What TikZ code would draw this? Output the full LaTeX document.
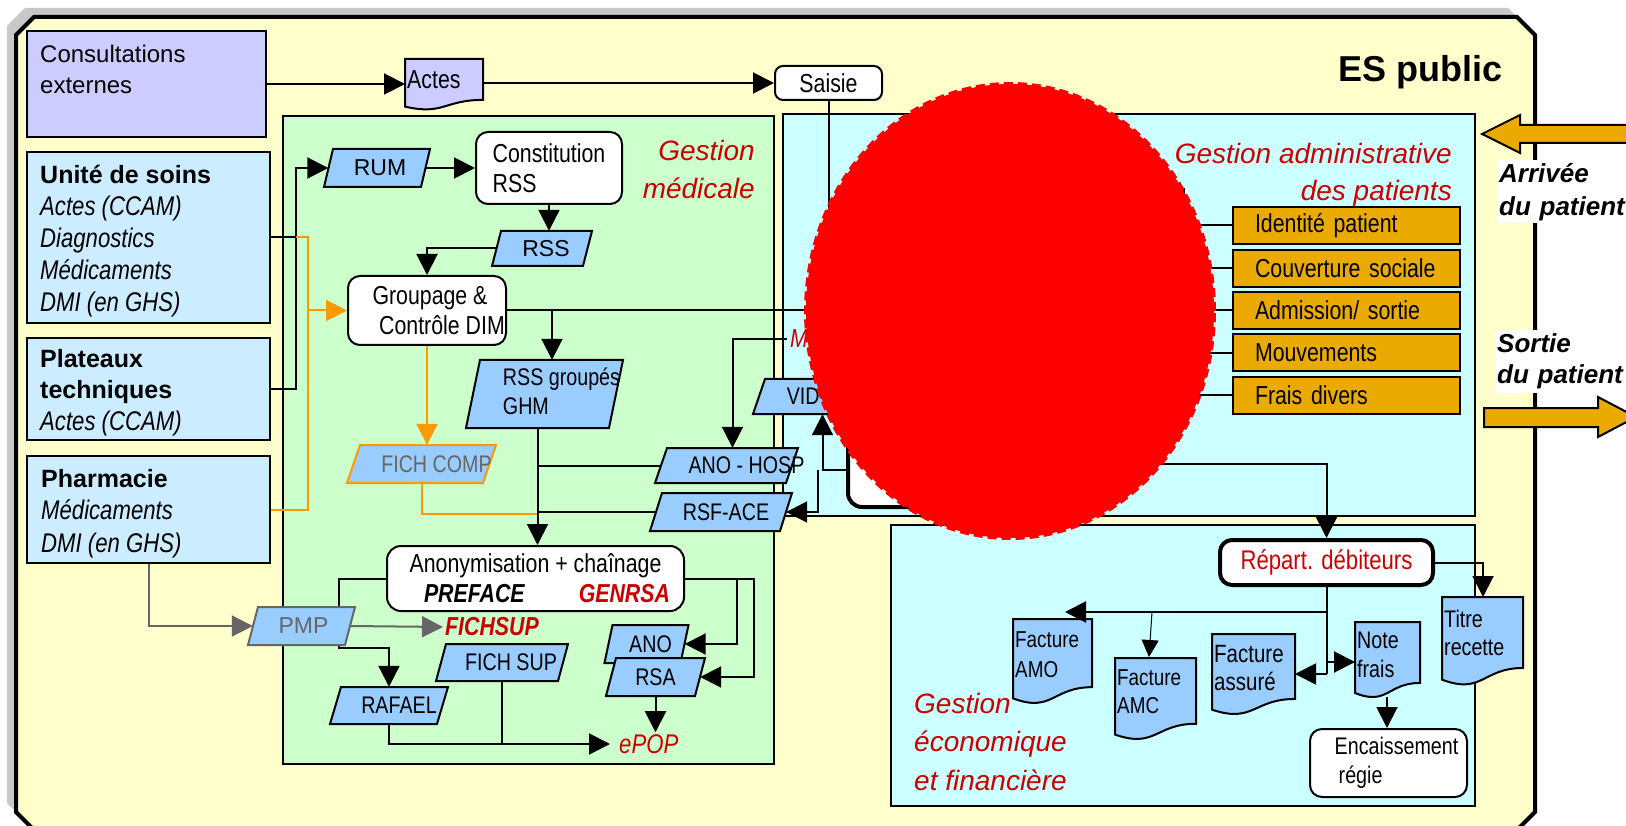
\documentclass[tikz,border=0pt]{standalone}
\usepackage{fontspec}
\setmainfont{Liberation Sans}
\newfontfamily\nar{Liberation Sans}[FakeStretch=0.82]
\usetikzlibrary{arrows.meta}
\definecolor{frameY}{HTML}{FFFFCC}
\definecolor{shadowG}{HTML}{C8C8C8}
\definecolor{greenB}{HTML}{CCFFCC}
\definecolor{cyanB}{HTML}{CCFFFF}
\definecolor{lavB}{HTML}{CCCCFF}
\definecolor{lblue}{HTML}{CCECFF}
\definecolor{paraB}{HTML}{99CCFF}
\definecolor{orangeB}{HTML}{EBAA00}
\definecolor{redT}{HTML}{CC0000}
\definecolor{orangeL}{HTML}{FF9900}
\definecolor{grayL}{HTML}{666666}
\definecolor{blobR}{HTML}{FF0000}
\newcommand\fsz[2]{\fontsize{#1}{#2}\selectfont}
\newcommand\itl{\nar\itshape\fsz{27}{32}}
\newcommand\txtshift[2]{\makebox[0pt]{\hspace*{#1pt}\hspace*{#1pt}#2}}
% parallelogram: [style]{name}{cx}{cy}{w}{h}{slant}{text}
\newcommand\paral[8][]{%
  \path[parafill,#1] ({#3-#5/2-#7/2},{#4+#6/2}) -- ({#3+#5/2-#7/2},{#4+#6/2}) -- ({#3+#5/2+#7/2},{#4-#6/2}) -- ({#3-#5/2+#7/2},{#4-#6/2}) -- cycle;
  \node[ptext,minimum width=#5pt,minimum height=#6pt] (#2) at (#3,#4) {#8};}
% document shape: [style]{L}{T}{R}{H}
\newcommand\docshape[5][]{%
  \path[docS,#1] (#2,#3) -- (#4,#3) -- (#4,{#3+0.802*#5}) .. controls ({(#2+#4)/2},{#3+0.802*#5}) and ({(#2+#4)/2},{#3+1.107*#5}) .. (#2,{#3+0.934*#5}) -- cycle;}
\tikzset{
  ln/.style={line width=2pt},
  arr/.style={line width=2pt, -{Triangle[length=21pt,width=21pt]}},
  tarr/.style={line width=1pt, -{Triangle[length=17pt,width=17pt]}},
  oln/.style={line width=2pt, draw=orangeL},
  oarr/.style={oln, -{Triangle[length=21pt,width=21pt]}},
  garr/.style={line width=2pt, draw=grayL, -{Triangle[length=21pt,width=21pt]}},
  leftbox/.style={draw, line width=2.5pt, inner sep=0pt},
  region/.style={draw, line width=2pt, inner sep=0pt},
  rbox/.style={draw, line width=2pt, fill=white, rounded corners=12pt, inner sep=0pt, align=center, font=\nar\fsz{26}{30}},
  parafill/.style={draw, line width=2pt, fill=paraB},
  ptext/.style={inner sep=0pt, font=\nar\fsz{24}{29}},
  docS/.style={draw, line width=2pt, fill=paraB},
  dtext/.style={inner sep=0pt, align=left, anchor=north west},
  obox/.style={draw, line width=2pt, fill=orangeB, inner xsep=22pt, inner ysep=0pt, text width=183pt, align=left, minimum height=37pt, font=\nar\fsz{26}{30}},
  redtitle/.style={text=redT, inner sep=0pt, font=\itshape\fsz{28}{38}},
  lt/.style={inner sep=0pt, anchor=north west, align=left},
}
\begin{document}
\begin{tikzpicture}[x=1pt,y=-1pt]
\useasboundingbox (0,0) rectangle (1626,826);
\clip (0,0) rectangle (1626,826);
\fill[white] (0,0) rectangle (1626,826);
% frame
\fill[shadowG] (7,26) -- (25,8) -- (1508,8) -- (1526,26) -- (1526,803) -- (1510,819) -- (23,819) -- (7,803) -- cycle;
\path[draw, line width=4pt, fill=frameY] (16,35) -- (34,17) -- (1517,17) -- (1535,35) -- (1535,812) -- (1519,828) -- (32,828) -- (16,812) -- cycle;
% patient arrows
\path[draw, line width=2pt, fill=orangeB] (1482,134) -- (1520,115) -- (1520,125) -- (1640,125) -- (1640,143) -- (1520,143) -- (1520,153) -- cycle;
\path[draw, line width=2pt, fill=orangeB] (1484,408) -- (1598,408) -- (1598,397) -- (1636,417) -- (1598,437) -- (1598,427) -- (1484,427) -- cycle;
\node[fill=white, anchor=north west, inner xsep=1pt, inner ysep=0pt, minimum height=63pt, text width=135pt, align=left, font=\bfseries\itshape\fsz{26}{33}] (arrivee) at (1498,160) {Arrivée\\du patient};
\node[fill=white, anchor=north west, inner xsep=2pt, inner ysep=0pt, minimum height=63pt, text width=135pt, align=left, font=\bfseries\itshape\fsz{26}{31}] (sortie) at (1495,330) {Sortie\\du patient};
\node[anchor=base east, inner sep=0pt, font=\bfseries\fsz{36}{40}] (es) at (1503,82) {ES public};
% regions
\node[region, fill=greenB, minimum width=491pt, minimum height=648pt] (gmed) at (528.5,440) {};
\node[region, fill=cyanB, minimum width=692pt, minimum height=402pt] (gadm) at (1129,315) {};
\node[region, fill=cyanB, minimum width=584pt, minimum height=281pt] (geco) at (1183,665.5) {};
% left column
\node[leftbox, fill=lavB, minimum width=239pt, minimum height=106pt] (consult) at (146.5,84) {};
\node[leftbox, fill=lblue, minimum width=243pt, minimum height=171pt] (unite) at (148.5,237.5) {};
\node[leftbox, fill=lblue, minimum width=243pt, minimum height=102pt] (plat) at (148.5,389) {};
\node[leftbox, fill=lblue, minimum width=243pt, minimum height=107pt] (pharma) at (148.5,509.5) {};
\node[lt, font=\fsz{24}{31}] (consult-t) at (40,42) {\rule{0pt}{20pt}Consultations\\externes};
\node[lt, font=\fsz{25}{32}] (unite-t) at (40,163) {\rule{0pt}{20pt}\textbf{Unité de soins}\\{\itl Actes (CCAM)}\\{\itl Diagnostics}\\{\itl Médicaments}\\{\itl DMI (en GHS)}};
\node[lt, font=\fsz{25}{31.5}] (plat-t) at (40,347) {\rule{0pt}{20pt}\textbf{Plateaux}\\\textbf{techniques}\\{\itl Actes (CCAM)}};
\node[lt, font=\fsz{25}{32.5}] (pharma-t) at (41,467) {\rule{0pt}{20pt}\textbf{Pharmacie}\\{\itl Médicaments}\\{\itl DMI (en GHS)}};
% Actes and Saisie
\docshape[fill=lavB]{405}{59}{483}{51}
\node[anchor=base west, inner sep=0pt, font=\nar\fsz{26}{30}] (actes) at (407,89) {Actes};
\node[rbox, rounded corners=8pt, minimum width=107pt, minimum height=34pt] (saisie) at (828.5,83) {Saisie};
\coordinate (actesL) at (405,84);
\coordinate (actesR) at (483,83);
\draw[arr] (consult.east) -- (actesL);
\draw[arr] (actesR) -- (saisie.west);
\coordinate (saisieEnd) at (828.5,260);
\draw[ln] (saisie.south) -- (saisieEnd);
% Gestion medicale boxes
\node[redtitle, anchor=north east, align=right] (gmedt) at (755,139) {\rule{0pt}{21pt}Gestion\\médicale};
\node[rbox, minimum width=146pt, minimum height=72pt, align=left] (constit) at (549,168) {Constitution\\RSS};
\node[rbox, minimum width=158pt, minimum height=69pt] (group) at (427,310.5) {\hspace*{6pt}Groupage \&\\\hspace*{30pt}Contrôle DIM};
\node[rbox, minimum width=297pt, minimum height=65pt, rounded corners=14pt] (anon) at (535.5,578.5) {Anonymisation + chaînage\\\hspace*{23pt}\hbox to 246pt{\bfseries\itshape PREFACE\hfill\color{redT}GENRSA}};
\node[draw, line width=4pt, fill=white, rounded corners=14pt, minimum width=152pt, minimum height=74pt] (wbox) at (924,470) {};
\paral{rum}{377}{168}{97}{38}{9}{\txtshift{3}{\normalfont\fsz{23}{28}RUM}}
\paral{rss}{542}{248.5}{91}{35}{9}{\txtshift{4}{\normalfont\fsz{23}{28}RSS}}
\paral{rssg}{544.5}{394}{143}{68}{14}{\txtshift{17}{\begin{tabular}{@{}l@{}}RSS groupés\\GHM\end{tabular}}}
\paral[draw=orangeL]{fcomp}{421.5}{464}{136}{38}{13}{\txtshift{15}{\color{grayL}FICH COMP}}
\paral{anohosp}{726.5}{465.5}{131}{35}{12}{\txtshift{20}{ANO - HOSP}}
\paral{rsface}{721}{512}{130}{38}{12}{\txtshift{5}{RSF-ACE}}
\paral{vid}{806.5}{396.5}{95}{35}{12}{VID-}
\paral{fsup}{502}{662.5}{122}{37}{10}{\txtshift{9}{FICH SUP}}
\paral{rafael}{389}{705.5}{107}{37}{11}{\txtshift{10}{RAFAEL}}
\paral{ano}{646.5}{644}{76}{38}{8}{\txtshift{4}{ANO}}
\paral{rsa}{655.5}{677}{89}{38}{10}{RSA}
\node[anchor=west, inner xsep=3pt, inner ysep=0pt, text=redT, font=\nar\itshape\fsz{26}{30}] (mtext) at (787,339) {M};
\node[anchor=west, inner xsep=2pt, inner ysep=0pt, text=redT, font=\nar\bfseries\itshape\fsz{26}{30}] (fichsup) at (443,627) {FICHSUP};
\node[anchor=west, inner xsep=9pt, inner ysep=2pt, text=redT, font=\nar\itshape\fsz{27}{30}] (epop) at (610,744) {ePOP};
% connectors gestion medicale
\coordinate (j1) at (296,168);
\draw[ln] (unite.east) -- (unite.east -| j1);
\draw[arr] (plat.east) -| (j1) -- (rum.west);
\draw[oln] (unite.east -| j1) -- ++(12,0) |- (pharma.east);
\coordinate (oj) at (308,310.5);
\draw[oarr] (oj) -- (group.west);
\draw[arr] (rum.east) -- (constit.west);
\draw[arr] (constit.south) -- (constit.south |- rss.north);
\draw[arr] (rss.west) -| (group.north);
\coordinate (gEnd) at (860,310.5);
\draw[ln] (group.east) -- (gEnd);
\coordinate (gb) at (552,310.5);
\draw[arr] (gb) -- (gb |- rssg.north);
\draw[oarr] (group.south) -- (group.south |- fcomp.north);
\coordinate (vj) at (537.5,514);
\draw[oln] (fcomp.south) |- (vj);
\draw[arr] ([xshift=-7pt]rssg.south) -- ([xshift=-7pt]rssg.south |- anon.north);
\draw[ln] (anohosp.west) -- (anohosp.west -| vj);
\draw[ln] (rsface.west) -- (rsface.west -| vj);
\draw[arr] (mtext.west) -| ([xshift=6pt]anohosp.north);
\draw[arr] (wbox.west) -| ([xshift=16pt]vid.south);
\draw[arr] ([xshift=-28pt]wbox.west) |- (rsface.east);
\coordinate (ra1) at (339,648);
\draw[arr] (anon.west) -| (ra1) -| (rafael.north);
\paral[draw=grayL]{pmp}{301.5}{626}{97}{38}{10}{\txtshift{2}{\normalfont\fsz{23}{28}\color{grayL}PMP}}
\draw[garr] (pharma.south) |- (pmp.west);
\draw[garr] (pmp.east) -- (fichsup.west);
\draw[arr] (rafael.south) |- (epop.west);
\draw[ln] (fsup.south) -- (fsup.south |- epop.west);
\draw[arr] (anon.east) -| ([xshift=52pt]ano.east) -- (ano.east);
\draw[arr] (anon.east) -| ([xshift=54pt]rsa.east) -- (rsa.east);
\draw[arr] (rsa.south) -- (rsa.south |- epop.north);
% gestion administrative
\node[redtitle, anchor=north east, align=right, font=\itshape\fsz{28}{37}] (gadmt) at (1452,142) {\rule{0pt}{21pt}Gestion administrative\\des patients};
\node[obox] (ident) at (1346.5,225.5) {Identité patient};
\node[obox] (couv) at (1346.5,268.5) {Couverture sociale};
\node[obox] (adm) at (1346.5,310.5) {Admission/ sortie};
\node[obox] (mouv) at (1346.5,353) {Mouvements};
\node[obox] (frais) at (1346.5,395.5) {Frais divers};
\coordinate (busT) at (1183,188);
\coordinate (busB) at (1183,395.5);
\draw[ln, line width=3pt] (busT) -- (busB);
\draw[ln] (ident.west) -- (ident.west -| busT);
\draw[ln] (couv.west) -- (couv.west -| busT);
\draw[ln] (adm.west) -- (adm.west -| busT);
\draw[ln] (mouv.west) -- (mouv.west -| busT);
\draw[ln] (frais.west) -- (frais.west -| busT);
% gestion economique
\node[redtitle, anchor=north west, align=left, font=\itshape\fsz{28}{38.5}] (gecot) at (914,692) {\rule{0pt}{21pt}Gestion\\économique\\et financière};
\node[rbox, line width=4pt, minimum width=213pt, minimum height=45pt, font=\nar\fsz{27}{30}, text=redT] (rep) at (1326.5,562.5) {Répart. débiteurs};
\node[rbox, minimum width=157pt, minimum height=68pt, align=left, font=\nar\fsz{24}{29}] (enc) at (1388.5,763) {\hspace*{16pt}Encaissement\\\hspace*{20pt}régie};
\docshape{1013}{619}{1092}{85}
\docshape{1115}{658}{1196}{82}
\docshape{1212}{634}{1295}{81}
\docshape{1355}{622}{1420}{76}
\docshape{1442}{597}{1523}{88.5}
\node[dtext, font=\nar\fsz{23}{30}] (amo) at (1015,630) {\rule{0pt}{17pt}Facture\\AMO};
\node[dtext, font=\nar\fsz{23}{28}] (amc) at (1117,668) {\rule{0pt}{17pt}Facture\\AMC};
\node[dtext, font=\nar\fsz{25}{28}] (assure) at (1214,644) {\rule{0pt}{18pt}Facture\\assuré};
\node[dtext, font=\nar\fsz{24}{29}] (note) at (1357,631) {\rule{0pt}{17pt}Note\\frais};
\node[dtext, font=\nar\fsz{24}{28}] (titre) at (1444,610) {\rule{0pt}{17pt}Titre\\recette};
\coordinate (coll) at (1120,464);
\draw[arr] (coll) -| (rep.north);
\coordinate (amoArr) at (1065,612);
\coordinate (amcS) at (1152,612);
\coordinate (amcT) at (1149,657);
\coordinate (assureR) at (1295,674);
\coordinate (noteL) at (1355,662);
\coordinate (noteB) at (1387,697);
\coordinate (titreT) at (1483,597);
\draw[arr] (rep.south) |- (amoArr);
\draw[ln] (rep.south) -- (rep.south |- assureR);
\draw[arr] (rep.south |- assureR) -- (assureR);
\draw[arr] (rep.south |- noteL) -- (noteL);
\draw[tarr] (amcS) -- (amcT);
\draw[arr] (noteB) -- (noteB |- enc.north);
\draw[arr] (rep.east) -| (titreT);
% red blob
\fill[blobR] (1010,311) ellipse [x radius=204pt, y radius=227pt];
\draw[blobR, line width=4pt, dash pattern=on 9pt off 5pt] (1010,311) ellipse [x radius=204pt, y radius=227pt];
\end{tikzpicture}
\end{document}
